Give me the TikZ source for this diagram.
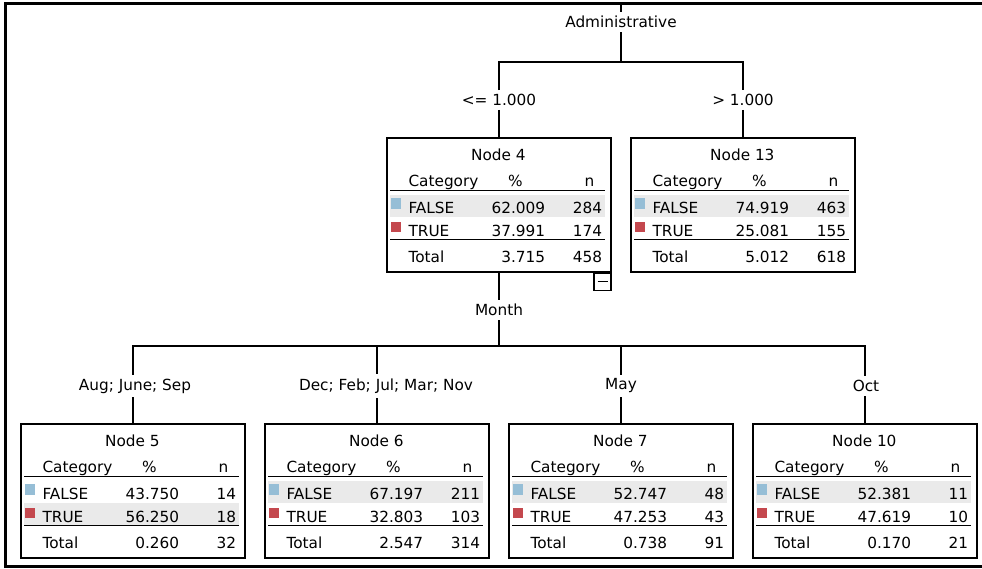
\documentclass[tikz,border=0pt]{standalone}
\usepackage{fontspec}
\setmainfont{DejaVu Sans}
\usetikzlibrary{calc}

\definecolor{falseblue}{RGB}{150,190,214}
\definecolor{truered}{RGB}{196,72,78}
\definecolor{rowgray}{RGB}{234,234,234}

\tikzset{
  lbl/.style={inner sep=4pt, font=\fontsize{15.3}{18}\selectfont},
  cell/.style={inner sep=0pt, font=\fontsize{15.3}{18}\selectfont},
  treebox/.style={draw, line width=1.3pt, minimum width=224pt, minimum height=134pt, inner sep=0pt},
  rule/.style={line width=1.6pt},
  edge/.style={line width=1.3pt},
}

% rows of one node table: name, title, F%, Fn, T%, Tn, total%, total n, y of grey row
\newcommand{\catrows}[9]{%
  \begin{scope}[shift={(#1.north west)}]
    \fill[rowgray] (4,#9) rectangle (219,{#9+22});
    \node[cell,anchor=base] (#1-title) at (112,23) {#2};
    \node[cell,anchor=base west] (#1-cat) at (22,49) {Category};
    \node[cell,anchor=base] (#1-pct) at (129,49) {\%};
    \node[cell,anchor=base] (#1-n) at (203,49) {n};
    \draw[rule] (4,53) -- (219,53);
    \fill[falseblue] (5,61) rectangle (15,72);
    \node[cell,anchor=base west] (#1-f) at (22,76) {FALSE};
    \node[cell,anchor=base east] (#1-fp) at (159,76) {#3};
    \node[cell,anchor=base east] (#1-fn) at (216,76) {#4};
    \fill[truered] (5,85) rectangle (15,95);
    \node[cell,anchor=base west] (#1-t) at (22,99) {TRUE};
    \node[cell,anchor=base east] (#1-tp) at (159,99) {#5};
    \node[cell,anchor=base east] (#1-tn) at (216,99) {#6};
    \draw[rule] (4,102) -- (219,102);
    \node[cell,anchor=base west] (#1-tot) at (22,125) {Total};
    \node[cell,anchor=base east] (#1-totp) at (159,125) {#7};
    \node[cell,anchor=base east] (#1-totn) at (216,125) {#8};
  \end{scope}}

\begin{document}
\begin{tikzpicture}[x=1pt,y=-1pt]
  \useasboundingbox (0,0) rectangle (982,569);
  \draw[line width=3pt] (982,4) -- (5,4) -- (5,566) -- (982,566);

  % first split
  \coordinate (top) at (621,4);
  \node[lbl] (admin) at (621,22) {Administrative};
  \coordinate (j1) at (621,62);
  \node[lbl] (le) at (499,100) {<= 1.000};
  \node[lbl] (gt) at (743,100) {> 1.000};
  \node[treebox] (n4) at (499,205) {};
  \node[treebox] (n13) at (743,205) {};
  \node[draw, line width=1.3pt, minimum size=17pt, inner sep=0pt, anchor=north east] (n4toggle) at (n4.south east) {};
  \draw[line width=1.3pt] ([xshift=-5pt]n4toggle.center) -- ([xshift=5pt]n4toggle.center);

  \draw[edge] (top) -- (admin);
  \draw[edge] (admin) -- (j1);
  \draw[edge] (le) |- (j1) -| (gt);
  \draw[edge] (le) -- (n4);
  \draw[edge] (gt) -- (n13);

  \catrows{n4}{Node 4}{62.009}{284}{37.991}{174}{3.715}{458}{58}
  \catrows{n13}{Node 13}{74.919}{463}{25.081}{155}{5.012}{618}{58}

  % second split
  \node[lbl] (month) at (499,310) {Month};
  \coordinate (j2) at (499,346);
  \draw[edge] (n4) -- (month);
  \draw[edge] (month) -- (j2);

  \node[lbl] (s5) at (135,386) {Aug; June; Sep};
  \node[lbl] (s6) at (386,386) {Dec; Feb; Jul; Mar; Nov};
  \node[lbl] (s7) at (621,386) {May};
  \node[lbl] (s10) at (866,386) {Oct};
  \node[treebox] (n5) at (133,491) {};
  \node[treebox] (n6) at (377,491) {};
  \node[treebox] (n7) at (621,491) {};
  \node[treebox] (n10) at (865,491) {};

  \draw[edge] (n5.north |- s5.north) |- (j2) -| (n10.north |- s10.north);
  \draw[edge] (n6.north |- j2) -- (n6.north |- s6.north);
  \draw[edge] (n7.north |- j2) -- (n7.north |- s7.north);
  \foreach \k in {5,6,7,10}
    \draw[edge] (n\k.north) -- (n\k.north |- s\k.south);

  \catrows{n5}{Node 5}{43.750}{14}{56.250}{18}{0.260}{32}{80}
  \catrows{n6}{Node 6}{67.197}{211}{32.803}{103}{2.547}{314}{58}
  \catrows{n7}{Node 7}{52.747}{48}{47.253}{43}{0.738}{91}{58}
  \catrows{n10}{Node 10}{52.381}{11}{47.619}{10}{0.170}{21}{58}
\end{tikzpicture}
\end{document}
